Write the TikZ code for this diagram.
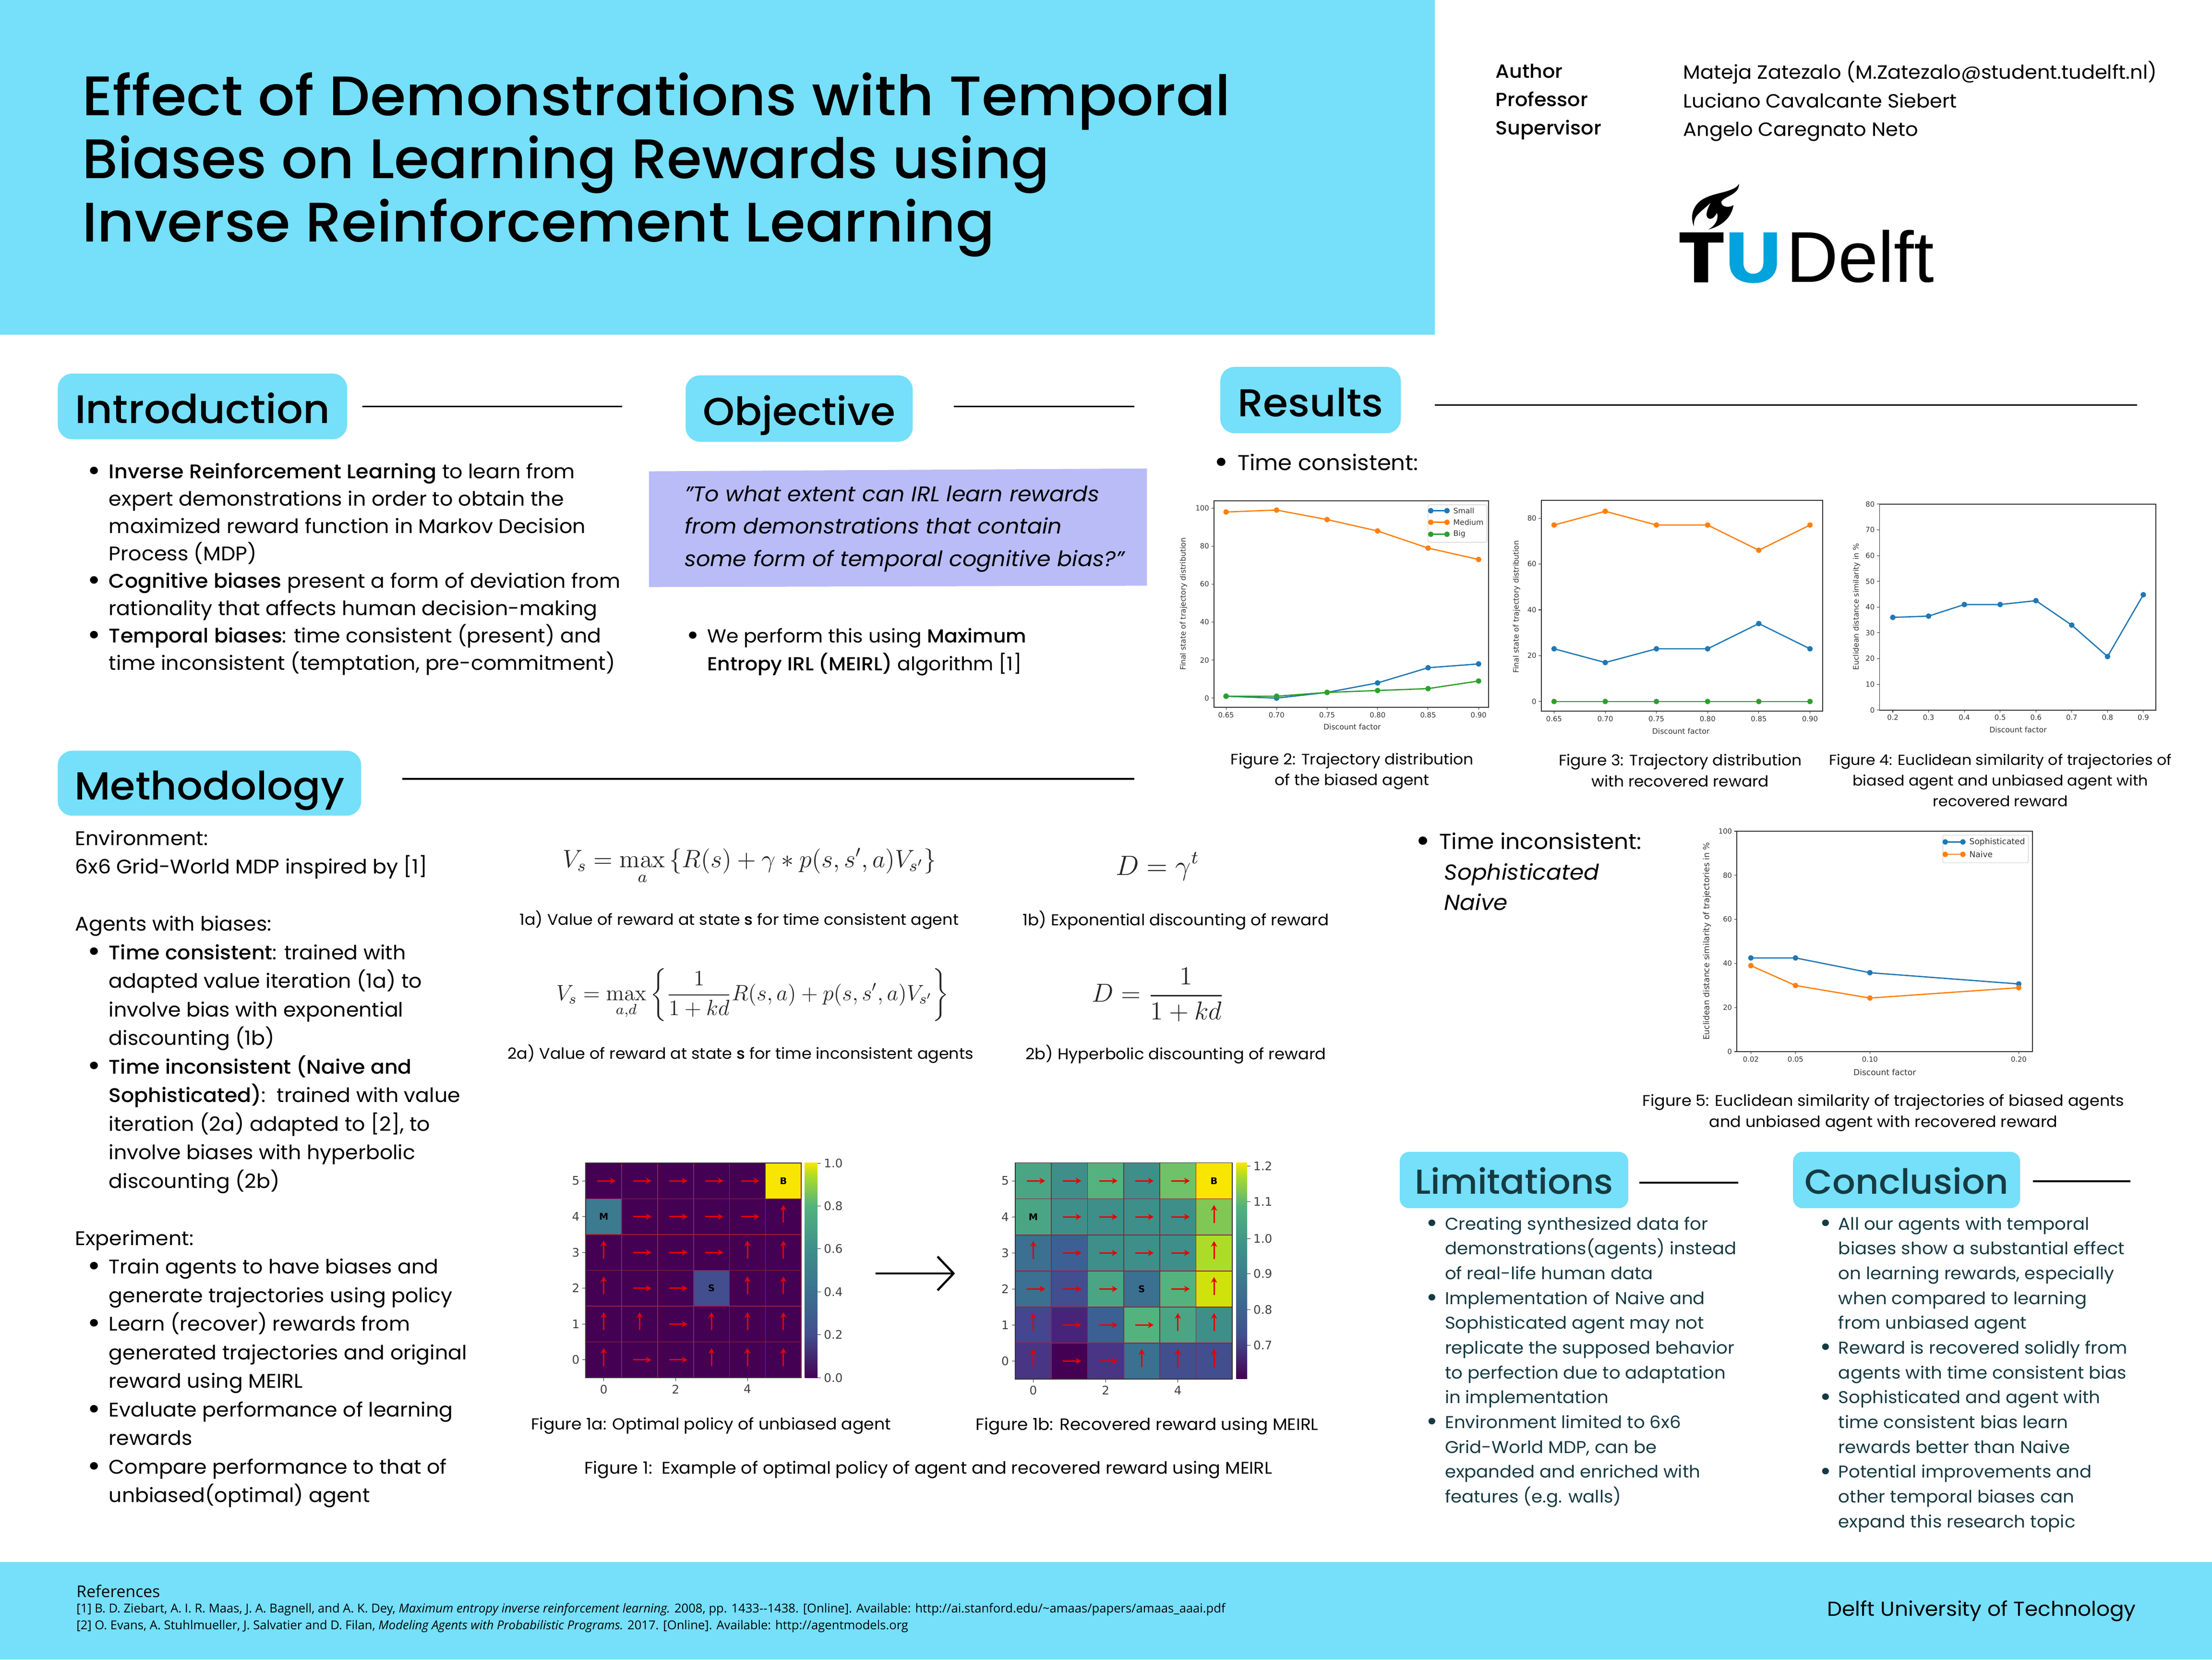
\documentclass[tikz,border=0pt]{standalone}
\usepackage{amsmath}
\usepackage{graphicx}
\usepackage[no-math]{fontspec}
\usepackage{xcolor}
\setmainfont{Poppins}[BoldFont={Poppins Medium}, FakeStretch=1.04]
\newfontfamily\plotfont{DejaVu Sans}
\newfontfamily\logofont{Liberation Sans}
\newfontfamily\reffont{Open Sans}
\usetikzlibrary{arrows.meta, positioning}
\def\uu{0.029388cm}
\newcommand{\fsz}[2]{\fontsize{#1}{#2}\selectfont}
\newcommand{\bul}{\leavevmode\makebox[0pt][r]{\raisebox{-.12em}{\scalebox{1.55}{\textbullet}}\hspace{.42em}}}
\definecolor{bandcyan}{HTML}{76DFF9}
\definecolor{quotebg}{HTML}{B9BCF7}
\definecolor{tublue}{HTML}{00A3DC}
\definecolor{darktext}{HTML}{163A42}
\definecolor{plotblue}{HTML}{1F77B4}
\definecolor{plotorange}{HTML}{FF7F0E}
\definecolor{plotgreen}{HTML}{2CA02C}
\definecolor{redline}{HTML}{9A1F3C}
\definecolor{va}{HTML}{440154}
\definecolor{vb}{HTML}{483584}
\definecolor{vc}{HTML}{45468F}
\definecolor{vd}{HTML}{3D6094}
\definecolor{ve}{HTML}{3B7090}
\definecolor{vf}{HTML}{3E8F8A}
\definecolor{vg}{HTML}{4AA585}
\definecolor{vh}{HTML}{54B27E}
\definecolor{vi}{HTML}{6FC267}
\definecolor{vj}{HTML}{80C755}
\definecolor{vk}{HTML}{ADDC28}
\definecolor{vl}{HTML}{D0E20C}
\definecolor{vm}{HTML}{F8E600}
\definecolor{vn}{HTML}{424E8E}
\definecolor{vo}{HTML}{3B7A8F}
\definecolor{vp}{HTML}{47247A}
\pgfdeclareverticalshading{viridis}{100bp}{color(0bp)=(va); color(25bp)=(va); color(35bp)=(vn); color(45bp)=(ve); color(55bp)=(vf); color(65bp)=(vh); color(72bp)=(vk); color(75bp)=(vm); color(100bp)=(vm)}
\tikzset{
  pill/.style={fill=bandcyan, rounded corners=8.5pt, inner sep=0pt, text height=19.7pt, text depth=0pt, font=\bfseries\fsz{23}{26}},
  smallpill/.style={fill=bandcyan, rounded corners=5.7pt, inner sep=0pt, text height=16.5pt, text depth=0pt, text=darktext, font=\bfseries\fsz{20.5}{24}},
  rule/.style={line width=1pt, black},
  body/.style={anchor=north west, inner sep=0pt, align=left, text=black},
  bodytext/.style={body, font=\fsz{11.72}{16.2}},
  smalltext/.style={body, text=darktext, font=\fsz{10.15}{14.7}},
  caption/.style={inner sep=0pt, align=center, font=\fsz{9.15}{12.3}},
  figcaption/.style={inner sep=0pt, align=center, font=\fsz{9}{12.4}},
  eqn/.style={inner sep=0pt, text=black!85},
  ticklab/.style={inner sep=1.2pt, text=black!80, font=\plotfont\fsz{4.2}{5}},
  axlab/.style={inner sep=0pt, text=black!80, font=\plotfont\fsz{4.45}{5}},
  biglab/.style={inner sep=0pt, text=black!80, font=\plotfont\fsz{4.85}{6}},
  hmlab/.style={inner sep=1.5pt, text=black!75, font=\plotfont\fsz{7}{8}},
  cellmark/.style={inner sep=0pt, font=\plotfont\bfseries\fsz{5.5}{6}},
  spine/.style={line width=.45pt, black!80},
  tickline/.style={line width=.3pt, black!80},
  series/.style={color=#1, line width=.75pt, mark=*, mark size=1.25pt},
  parrow/.style={red!90!black, line width=.85pt, -{Stealth[length=3.4pt,width=3.7pt]}},
  gridline/.style={redline, line width=.45pt},
}
\begin{document}
\begin{tikzpicture}[x=\uu, y=-\uu]
  \useasboundingbox (0,0) rectangle (1568,1176);
  \fill[bandcyan] (0,0) rectangle (1017,237);
  \fill[bandcyan] (0,1107) rectangle (1568,1176);

  \node[body, font=\bfseries\fsz{33}{37.5}] (title) at (58,51)
    {Effect of Demonstrations with Temporal\\\scalebox{.979}[1]{Biases on Learning Rewards using}\\\scalebox{.989}[1]{Inverse Reinforcement Learning}};

  \node[body, font=\bfseries\fsz{11.3}{16.8}] (lab_author) at (1060,45) {Author\\Professor\\Supervisor};
  \node[body, font=\fsz{11.35}{17}] (val_author) at (1193,43)
    {Mateja Zatezalo (M.Zatezalo@student.tudelft.nl)\\Luciano Cavalcante Siebert\\Angelo Caregnato Neto};

  \fill (1190.6,164.7) -- (1221.7,164.7) -- (1221.7,171.9) -- (1210.8,171.9) -- (1210.8,200)
    -- (1200.9,200) -- (1200.9,171.9) -- (1190.6,171.9) -- cycle;
  \fill[tublue] (1226,164.7) -- (1226,186) .. controls (1226,196) and (1233,200.6) .. (1242.8,200.6)
    .. controls (1252.6,200.6) and (1259.6,196) .. (1259.6,186) -- (1259.6,164.7) -- (1250,164.7)
    -- (1250,186) .. controls (1250,191) and (1247,194) .. (1242.8,194)
    .. controls (1238.6,194) and (1235.8,191) .. (1235.8,186) -- (1235.8,164.7) -- cycle;
  \begin{scope}[shift={(1156.9,115.7)}, x=0.004591cm, y=-0.003333cm]
    \fill (280,395) .. controls (265,340) and (270,280) .. (310,235)
      .. controls (350,195) and (400,190) .. (440,170) .. controls (465,158) and (480,145) .. (485,128)
      .. controls (487,160) and (470,185) .. (440,205) .. controls (420,220) and (400,235) .. (405,250)
      .. controls (410,275) and (440,280) .. (460,262) .. controls (455,310) and (430,385) .. (345,415)
      .. controls (375,395) and (395,350) .. (385,310) .. controls (375,335) and (365,350) .. (352,348)
      .. controls (330,340) and (335,300) .. (358,245) .. controls (340,270) and (315,295) .. (295,325)
      .. controls (280,350) and (280,375) .. (280,395) -- cycle;
  \end{scope}
  \node[anchor=base west, inner sep=0pt, font=\logofont\fsz{42.6}{44}] (logo_delft) at (1266,200) {Delft};

  \node[pill, font=\bfseries\fsz{23.6}{26}, minimum width=205*\uu, minimum height=46.5*\uu] (pill_intro) at (143.5,288) {Introduction};
  \node[pill, minimum width=161*\uu, minimum height=47*\uu] (pill_obj) at (566.5,289.5) {Objective};
  \node[pill, minimum width=128*\uu, minimum height=47*\uu] (pill_res) at (929,283.5) {Results};
  \node[pill, font=\bfseries\fsz{23.2}{26}, minimum width=215*\uu, minimum height=46*\uu] (pill_meth) at (148.5,555) {Methodology};
  \node[smallpill, minimum width=162*\uu, minimum height=40*\uu] (pill_lim) at (1073.2,836.2) {Limitations};
  \node[smallpill, minimum width=161*\uu, minimum height=40*\uu] (pill_con) at (1351.5,836.2) {Conclusion};

  \coordinate (rule_intro_a) at (257,288);   \coordinate (rule_intro_b) at (441,288);
  \coordinate (rule_obj_a) at (676,288);     \coordinate (rule_obj_b) at (804,288);
  \coordinate (rule_res_a) at (1017,287);    \coordinate (rule_res_b) at (1515,287);
  \coordinate (rule_meth_a) at (285,552);    \coordinate (rule_meth_b) at (804,552);
  \coordinate (rule_lim_a) at (1162,838);    \coordinate (rule_lim_b) at (1232,838);
  \coordinate (rule_con_a) at (1441,837);    \coordinate (rule_con_b) at (1510,837);
  \path[rule]
    (rule_intro_a) edge (rule_intro_b)
    (rule_obj_a)   edge (rule_obj_b)
    (rule_res_a)   edge (rule_res_b)
    (rule_meth_a)  edge (rule_meth_b)
    (rule_lim_a)   edge (rule_lim_b)
    (rule_con_a)   edge (rule_con_b);

  \node[bodytext] (intro_text) at (77,328)
    {\bul\textbf{Inverse Reinforcement Learning} to learn from\\
     expert demonstrations in order to obtain the\\
     maximized reward function in Markov Decision\\
     Process (MDP)\\
     \bul\textbf{Cognitive biases} present a form of deviation from\\
     rationality that affects human decision-making\\
     \bul\textbf{Temporal biases}: time consistent (present) and\\
     time inconsistent (temptation, pre-commitment)};

  \fill[quotebg] (460,334) -- (813,332) -- (813,415) -- (460,416) -- cycle;
  \node[body, font=\itshape\fsz{12.6}{19.2}] (quote_text) at (485,344)
    {"To what extent can IRL learn rewards\\from demonstrations that contain\\some form of temporal cognitive bias?"};
  \node[body, font=\fsz{11.2}{16.5}] (obj_text) at (501,445)
    {\bul We perform this using \textbf{Maximum}\\\textbf{Entropy IRL (MEIRL)} algorithm [1]};

  \node[body, font=\fsz{12.75}{14}] (res_time) at (877,321.5) {\bul Time consistent:};
  \node[body, font=\fsz{12.85}{18}] (res_incons) at (1020,590)
    {\bul Time inconsistent:\\\hspace*{3pt}\textit{Sophisticated}\\\hspace*{3pt}\textit{Naive}};

  \node[body, font=\fsz{11.7}{16.93}] (meth_text) at (53,588)
    {Environment:\\
     6x6 Grid-World MDP inspired by [1]\\
     ~\\
     Agents with biases:\\
     \hspace*{20pt}\bul\textbf{Time consistent}: trained with\\
     \hspace*{20pt}adapted value iteration (1a) to\\
     \hspace*{20pt}involve bias with exponential\\
     \hspace*{20pt}discounting (1b)\\
     \hspace*{20pt}\bul\textbf{Time inconsistent (Naive and}\\
     \hspace*{20pt}\textbf{Sophisticated)}:\ \ trained with value\\
     \hspace*{20pt}iteration (2a) adapted to [2], to\\
     \hspace*{20pt}involve biases with hyperbolic\\
     \hspace*{20pt}discounting (2b)\\
     ~\\
     Experiment:\\
     \hspace*{20pt}\bul Train agents to have biases and\\
     \hspace*{20pt}generate trajectories using policy\\
     \hspace*{20pt}\bul Learn (recover) rewards from\\
     \hspace*{20pt}generated trajectories and original\\
     \hspace*{20pt}reward using MEIRL\\
     \hspace*{20pt}\bul Evaluate performance of learning\\
     \hspace*{20pt}rewards\\
     \hspace*{20pt}\bul Compare performance to that of\\
     \hspace*{20pt}unbiased(optimal) agent};

  \node[eqn, scale=1.238, font=\fsz{12}{14}] (eq_1a) at (531.5,614)
    {$\displaystyle V_s=\max_a\left\{R(s)+\gamma*p(s,s',a)V_{s'}\right\}$};
  \node[eqn, scale=1.37, font=\fsz{12}{14}] (eq_1b) at (820.5,614) {$\displaystyle D=\gamma^t$};
  \node[eqn, scale=1.09, font=\fsz{12}{14}] (eq_2a) at (533.5,705)
    {$\displaystyle V_s=\max_{a,d}\left\{\frac{1}{1+kd}R(s,a)+p(s,s',a)V_{s'}\right\}$};
  \node[eqn, scale=1.28, font=\fsz{12}{14}] (eq_2b) at (821,705) {$\displaystyle D=\frac{1}{1+kd}$};
  \node[caption] (cap_1a) at (524,652) {1a) Value of reward at state \textbf{s} for time consistent agent};
  \node[caption, font=\fsz{9.35}{12}] (cap_1b) at (833.5,652) {1b) Exponential discounting of reward};
  \node[caption] (cap_2a) at (525,747) {2a) Value of reward at state \textbf{s} for time inconsistent agents};
  \node[caption, font=\fsz{9.25}{12}] (cap_2b) at (833.5,747) {2b) Hyperbolic discounting of reward};

  \begin{scope}[shift={(415.2,976.3)}, x=25.47*\uu, y=25.37*\uu]
    \fill[va] (0,0) rectangle (6,6);
    \fill[vm] (5,5) rectangle (6,6);
    \fill[vo] (0,4) rectangle (1,5);
    \fill[vn] (3,2) rectangle (4,3);
    \draw[gridline] (0,0) grid[step=1] (6,6);
    \draw[spine] (0,0) rectangle (6,6);
    \foreach \r/\cols in {5/{0,1,2,3,4},4/{1,2,3,4},3/{1,2,3},2/{1,2},1/{2},0/{1,2}}
      \foreach \c in \cols \draw[parrow] (\c+.32,\r+.5) -- (\c+.83,\r+.5);
    \foreach \r/\cols in {4/{5},3/{0,4,5},2/{0,4,5},1/{0,1,3,4,5},0/{0,3,4,5}}
      \foreach \c in \cols \draw[parrow] (\c+.5,\r+.33) -- (\c+.5,\r+.83);
    \node[cellmark] (left_b) at (5.5,5.5) {B};
    \node[cellmark] (left_m) at (.5,4.5) {M};
    \node[cellmark] (left_s) at (3.5,2.5) {S};
    \foreach \v in {0,1,...,5} {
      \draw[tickline] (0,\v+.5) -- ++(-2pt,0);
      \node[hmlab, anchor=east] (left_y\v) at ([xshift=-2pt]0,\v+.5) {\v};
    }
    \foreach \v in {0,2,4} {
      \draw[tickline] (\v+.5,0) -- ++(0,-2pt);
      \node[hmlab, anchor=north] (left_x\v) at ([yshift=-2.5pt]\v+.5,0) {\v};
    }
  \end{scope}
  \shade[shading=viridis] (570.5,824.1) rectangle (579.4,976.3);
  \foreach \v/\y in {0.0/976.3,0.2/945.9,0.4/915.5,0.6/885,0.8/854.6,1.0/824.4} {
    \draw[tickline] (579.4,\y) -- (582,\y);
    \node[hmlab, anchor=west] (leftbar_\y) at (582,\y) {\v};
  }

  \begin{scope}[shift={(719.6,977.2)}, x=25.63*\uu, y=25.53*\uu]
    \foreach \r/\cols in {5/{vg,vf,vh,vf,vi,vm},4/{vg,vf,vf,vf,vf,vj},3/{ve,vd,vf,vf,vf,vk},
                          2/{ve,vn,vg,ve,vh,vl},1/{vc,vp,vd,vh,vg,vf},0/{vb,va,vb,ve,vn,vn}}
      \foreach \col [count=\c from 0] in \cols \fill[\col] (\c,\r) rectangle (\c+1,\r+1);
    \draw[gridline] (0,0) grid[step=1] (6,6);
    \draw[spine] (0,0) rectangle (6,6);
    \foreach \r/\cols in {5/{0,1,2,3,4},4/{1,2,3,4},3/{1,2,3,4},2/{0,1,2,4},1/{1,2,3},0/{1,2}}
      \foreach \c in \cols \draw[parrow] (\c+.32,\r+.5) -- (\c+.83,\r+.5);
    \foreach \r/\cols in {4/{5},3/{0,5},2/{5},1/{0,4,5},0/{0,3,4,5}}
      \foreach \c in \cols \draw[parrow] (\c+.5,\r+.33) -- (\c+.5,\r+.83);
    \node[cellmark] (right_b) at (5.5,5.5) {B};
    \node[cellmark] (right_m) at (.5,4.5) {M};
    \node[cellmark] (right_s) at (3.5,2.5) {S};
    \foreach \v in {0,1,...,5} {
      \draw[tickline] (0,\v+.5) -- ++(-2pt,0);
      \node[hmlab, anchor=east] (right_y\v) at ([xshift=-2pt]0,\v+.5) {\v};
    }
    \foreach \v in {0,2,4} {
      \draw[tickline] (\v+.5,0) -- ++(0,-2pt);
      \node[hmlab, anchor=north] (right_x\v) at ([yshift=-2.5pt]\v+.5,0) {\v};
    }
  \end{scope}
  \shade[shading=viridis] (876.4,824.1) rectangle (884.1,977.2);
  \foreach \v/\y in {1.2/826.4,1.1/851.5,1.0/877.6,0.9/902.7,0.8/928,0.7/953.2} {
    \draw[tickline] (884.1,\y) -- (886.5,\y);
    \node[hmlab, anchor=west] (rightbar_\y) at (886.5,\y) {\v};
  }

  \coordinate (map_a) at (620.7,902.4);
  \coordinate (map_b) at (677,902.4);
  \draw[line width=1.3pt, -{Straight Barb[length=9.5pt,width=20pt]}] (map_a) -- (map_b);

  \node[caption, font=\fsz{9.5}{12}] (cap_fig1a) at (504,1010.5) {Figure 1a: Optimal policy of unbiased agent};
  \node[caption, font=\fsz{9.8}{12}] (cap_fig1b) at (813,1010.5) {Figure 1b: Recovered reward using MEIRL};
  \node[caption, font=\fsz{10.03}{12}] (cap_fig1) at (658,1041.5) {Figure 1:\ \ Example of optimal policy of agent and recovered reward using MEIRL};

  \begin{scope}[shift={(869.1,494.7)}, x=35.8*\uu, y=1.346*\uu]
    \draw[spine] (-.24,-4.83) rectangle (5.2,103.8);
    \foreach \v in {0,20,...,100} {
      \draw[tickline] (-.24,\v) -- ++(-1.5pt,0);
      \node[ticklab, anchor=east] (figa_y\v) at ([xshift=-1.5pt]-.24,\v) {\v};
    }
    \foreach \l [count=\i from 0] in {0.65,0.70,0.75,0.80,0.85,0.90} {
      \draw[tickline] (\i,-4.83) -- ++(0,-1.5pt);
      \node[ticklab, anchor=north] (figa_x\i) at ([yshift=-1.5pt]\i,-4.83) {\l};
    }
    \draw[series=plotblue] plot coordinates {(0,1)(1,0)(2,3)(3,8)(4,16)(5,18)};
    \draw[series=plotorange] plot coordinates {(0,98)(1,99)(2,94)(3,88)(4,79)(5,73)};
    \draw[series=plotgreen] plot coordinates {(0,1)(1,1)(2,3)(3,4)(4,5)(5,9)};
  \end{scope}
  \node[axlab, rotate=90] (figa_ylab) at (839,428) {Final state of trajectory distribution};
  \node[axlab] (figa_xlab) at (958.5,515) {Discount factor};
  \draw[black!20, line width=.3pt, fill=white, rounded corners=.8pt] (1012.3,357.7) rectangle (1054,384.3);
  \foreach \c/\y/\l in {plotblue/361.9/Small,plotorange/370.1/Medium,plotgreen/378.6/Big} {
    \draw[series=\c] plot coordinates {(1014.2,\y)(1025.7,\y)};
    \node[axlab, anchor=west] (figa_leg_\l) at (1030,\y) {\l};
  }

  \begin{scope}[shift={(1101.6,497.1)}, x=36.28*\uu, y=1.624*\uu]
    \draw[spine] (-.25,-4.2) rectangle (5.25,87.8);
    \foreach \v in {0,20,...,80} {
      \draw[tickline] (-.25,\v) -- ++(-1.5pt,0);
      \node[ticklab, anchor=east] (figb_y\v) at ([xshift=-1.5pt]-.25,\v) {\v};
    }
    \foreach \l [count=\i from 0] in {0.65,0.70,0.75,0.80,0.85,0.90} {
      \draw[tickline] (\i,-4.2) -- ++(0,-1.5pt);
      \node[ticklab, anchor=north] (figb_x\i) at ([yshift=-1.5pt]\i,-4.2) {\l};
    }
    \draw[series=plotblue] plot coordinates {(0,23)(1,17)(2,23)(3,23)(4,34)(5,23)};
    \draw[series=plotorange] plot coordinates {(0,77)(1,83)(2,77)(3,77)(4,66)(5,77)};
    \draw[series=plotgreen] plot coordinates {(0,0)(1,0)(2,0)(3,0)(4,0)(5,0)};
  \end{scope}
  \node[axlab, rotate=90] (figb_ylab) at (1075,430) {Final state of trajectory distribution};
  \node[axlab] (figb_xlab) at (1191.5,518) {Discount factor};

  \begin{scope}[shift={(1341.7,503.2)}, x=25.37*\uu, y=1.825*\uu]
    \draw[spine] (-.37,0) rectangle (7.35,80);
    \foreach \v in {0,10,...,80} {
      \draw[tickline] (-.37,\v) -- ++(-1.5pt,0);
      \node[ticklab, anchor=east] (figc_y\v) at ([xshift=-1.5pt]-.37,\v) {\v};
    }
    \foreach \l [count=\i from 0] in {0.2,0.3,0.4,0.5,0.6,0.7,0.8,0.9} {
      \draw[tickline] (\i,0) -- ++(0,-1.5pt);
      \node[ticklab, anchor=north] (figc_x\i) at ([yshift=-1.5pt]\i,0) {\l};
    }
    \draw[series=plotblue] plot coordinates {(0,36)(1,36.5)(2,41)(3,41)(4,42.5)(5,33)(6,20.8)(7,44.8)};
  \end{scope}
  \node[axlab, rotate=90] (figc_ylab) at (1316,430) {Euclidean distance similarity in \%};
  \node[axlab] (figc_xlab) at (1430.5,517) {Discount factor};

  \begin{scope}[shift={(1220,745.2)}, x=10.55*\uu, y=1.562*\uu]
    \draw[spine] (1.06,0) rectangle (20.93,100);
    \foreach \v in {0,20,...,100} {
      \draw[tickline] (1.06,\v) -- ++(-1.5pt,0);
      \node[ticklab, anchor=east] (figd_y\v) at ([xshift=-1.5pt]1.06,\v) {\v};
    }
    \foreach \p/\l in {2/0.02,5/0.05,10/0.10,20/0.20} {
      \draw[tickline] (\p,0) -- ++(0,-1.5pt);
      \node[ticklab, anchor=north] (figd_x\p) at ([yshift=-1.5pt]\p,0) {\l};
    }
    \draw[series=plotblue] plot coordinates {(2,42.5)(5,42.5)(10,35.8)(20,30.7)};
    \draw[series=plotorange] plot coordinates {(2,39)(5,30)(10,24.3)(20,29)};
  \end{scope}
  \node[biglab, rotate=90] (figd_ylab) at (1210,667) {Euclidean distance similarity of trajectories in \%};
  \node[biglab] (figd_xlab) at (1336,760) {Discount factor};
  \draw[black!20, line width=.3pt, fill=white, rounded corners=.8pt] (1377.2,591.8) rectangle (1437.8,611.4);
  \foreach \c/\y/\l in {plotblue/596.6/Sophisticated,plotorange/605.4/Naive} {
    \draw[series=\c] plot coordinates {(1378.9,\y)(1391.4,\y)};
    \node[biglab, anchor=west] (figd_leg_\l) at (1395.8,\y) {\l};
  }

  \node[figcaption] (cap_fig2) at (958.5,546.5) {Figure 2: Trajectory distribution\\of the biased agent};
  \node[figcaption] (cap_fig3) at (1191,546) {Figure 3: Trajectory distribution\\with recovered reward};
  \node[figcaption, font=\fsz{8.65}{12.3}] (cap_fig4) at (1418,553) {Figure 4: Euclidean similarity of trajectories of\\biased agent and unbiased agent with\\recovered reward};
  \node[figcaption, font=\fsz{9.15}{12.4}] (cap_fig5) at (1335,788.5) {Figure 5: Euclidean similarity of trajectories of biased agents\\and unbiased agent with recovered reward};

  \node[smalltext] (lim_text) at (1024,862)
    {\bul Creating synthesized data for\\
     demonstrations(agents) instead\\
     of real-life human data\\
     \bul Implementation of Naive and\\
     Sophisticated agent may not\\
     replicate the supposed behavior\\
     to perfection due to adaptation\\
     in implementation\\
     \bul Environment limited to 6x6\\
     Grid-World MDP, can be\\
     expanded and enriched with\\
     features (e.g. walls)};
  \node[smalltext] (con_text) at (1303,862)
    {\bul All our agents with temporal\\
     biases show a substantial effect\\
     on learning rewards, especially\\
     when compared to learning\\
     from unbiased agent\\
     \bul Reward is recovered solidly from\\
     agents with time consistent bias\\
     \bul Sophisticated and agent with\\
     time consistent bias learn\\
     rewards better than Naive\\
     \bul Potential improvements and\\
     other temporal biases can\\
     expand this research topic};

  \node[body, font=\reffont\fsz{9.6}{11}] (ref_head) at (54,1123) {References};
  \node[body, font=\reffont\fsz{7.28}{10}] (ref_text) at (54,1136)
    {[1] B. D. Ziebart, A. I. R. Maas, J. A. Bagnell, and A. K. Dey, \textit{Maximum entropy inverse reinforcement learning.} 2008, pp. 1433--1438. [Online]. Available: http://ai.stanford.edu/\textasciitilde amaas/papers/amaas\_aaai.pdf\\
     {[2]} O. Evans, A. Stuhlmueller, J. Salvatier and D. Filan, \textit{Modeling Agents with Probabilistic Programs.} 2017. [Online]. Available: http://agentmodels.org};
  \node[body, font=\fsz{12}{14}] (footer_right) at (1295,1134) {Delft University of Technology};
\end{tikzpicture}
\end{document}
